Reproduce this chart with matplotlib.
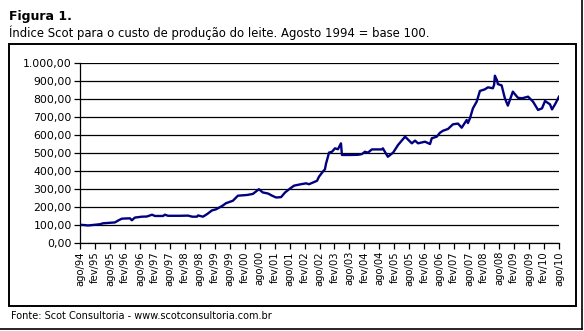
import matplotlib.pyplot as plt
from matplotlib.patches import Rectangle
from matplotlib.lines import Line2D

# months counted from ago/94, index value (ago/94 = 100)
months = [0, 2, 3.2, 6, 8, 9.2, 12, 14, 15.2, 16.8, 20, 20.8, 22, 24.8, 26.8,
          28.9, 30, 33.3, 34, 35.3, 40, 43.3, 45, 46.9, 47.3, 49.3, 51, 52.9,
          54.5, 57, 58.5, 61.3, 63.3, 67, 69.3, 71.7, 73.3, 75.4, 77, 78.6,
          80.6, 82.2, 84, 85.8, 88.2, 90.6, 91.8, 93.8, 95, 95.8, 97, 98.2,
          98.6, 99.4, 99.8, 101, 102.2, 103.4, 104.6, 105, 108.2, 111.4, 113,
          114.2, 115.4, 117, 121, 121.4, 122.2, 123.4, 125.5, 127.5, 130.3,
          133, 134.3, 135.5, 138.3, 140.3, 141, 143, 144.3, 145.5, 147.5,
          149.5, 151.5, 153, 155, 155.5, 156.3, 157.5, 159, 160.3, 162.3,
          163.5, 165.5, 166, 166.3, 167.1, 167.5, 169, 170.3, 171.5, 173.5,
          175.5, 177.2, 179.6, 181.6, 183.6, 185.2, 186.4, 188.4, 189.2,
          190.4, 192]
index = [100, 98, 96, 100, 103, 108, 111, 113, 123, 134, 136, 125, 140, 145, 146,
         156, 149, 149, 156, 150, 150, 151, 145, 145, 152, 145, 160, 180,
         186, 205, 220, 234, 262, 266, 272, 298, 280, 274, 262, 252,
         254, 280, 300, 318, 325, 331, 326, 338, 345, 368, 390, 410,
         440, 480, 502, 507, 526, 521, 554, 489, 489, 490, 494,
         507, 502, 520, 520, 526, 507, 479, 502, 545, 591,
         554, 569, 554, 563, 550, 582, 591, 613, 624, 634,
         660, 664, 641, 684, 667, 693, 749, 786, 846, 855,
         866, 861, 880, 931, 907, 884, 877, 805, 764, 842,
         808, 805, 814, 786, 740, 749, 790, 771, 743,
         771, 814]

tick_labels = ["ago/94", "fev/95", "ago/95", "fev/96", "ago/96", "fev/97", "ago/97",
               "fev/98", "ago/98", "fev/99", "ago/99", "fev/00", "ago/00", "fev/01",
               "ago/01", "fev/02", "ago/02", "fev/03", "ago/03", "fev/04", "ago/04",
               "fev/05", "ago/05", "fev/06", "ago/06", "fev/07", "ago/07", "fev/08",
               "ago/08", "fev/09", "ago/09", "fev/10", "ago/10"]
y_ticks = [0, 100, 200, 300, 400, 500, 600, 700, 800, 900, 1000]

W, H = 584, 331
fig = plt.figure(figsize=(W / 100, H / 100), dpi=100)
fig.patch.set_facecolor("white")

fig.text(9 / W, 1 - 10 / H, "Figura 1.", fontsize=9, fontweight="bold", va="top", ha="left")
fig.text(9 / W, 1 - 25 / H, "Índice Scot para o custo de produção do leite. Agosto 1994 = base 100.",
         fontsize=8.4, va="top", ha="left")
fig.text(11 / W, 1 - 316 / H, "Fonte: Scot Consultoria - www.scotconsultoria.com.br",
         fontsize=7, va="center", ha="left")

# chart box and outer frame
fig.patches.append(Rectangle((9 / W, 1 - 306 / H), 567 / W, 262 / H, transform=fig.transFigure,
                             fill=False, edgecolor="black", linewidth=1.4))
fig.lines.append(Line2D([582 / W, 582 / W], [1 - 329 / H, 1], transform=fig.transFigure,
                        color="black", linewidth=1.2))
fig.lines.append(Line2D([0, 582 / W], [1 - 329 / H, 1 - 329 / H], transform=fig.transFigure,
                        color="black", linewidth=1.2))

ax = fig.add_axes([80 / W, 1 - 242.7 / H, 479 / W, 179.4 / H])
ax.plot(months, index, color="#000080", linewidth=1.7)
ax.set_xlim(0, 192)
ax.set_ylim(0, 1000)
ax.set_yticks(y_ticks)
ax.set_yticklabels([f"{v:,.2f}".replace(",", "X").replace(".", ",").replace("X", ".") for v in y_ticks],
                   fontsize=7.8)
ax.set_xticks(range(0, 193, 6))
ax.set_xticklabels(tick_labels, rotation=90, fontsize=7.2)
ax.grid(axis="y", color="black", linewidth=0.9)
ax.set_axisbelow(True)
for s in ["top", "right"]:
    ax.spines[s].set_visible(False)
ax.spines["left"].set_linewidth(0.9)
ax.spines["bottom"].set_linewidth(0.9)
ax.tick_params(length=4, width=0.9, pad=2)

fig.savefig("out.png", dpi=100)
